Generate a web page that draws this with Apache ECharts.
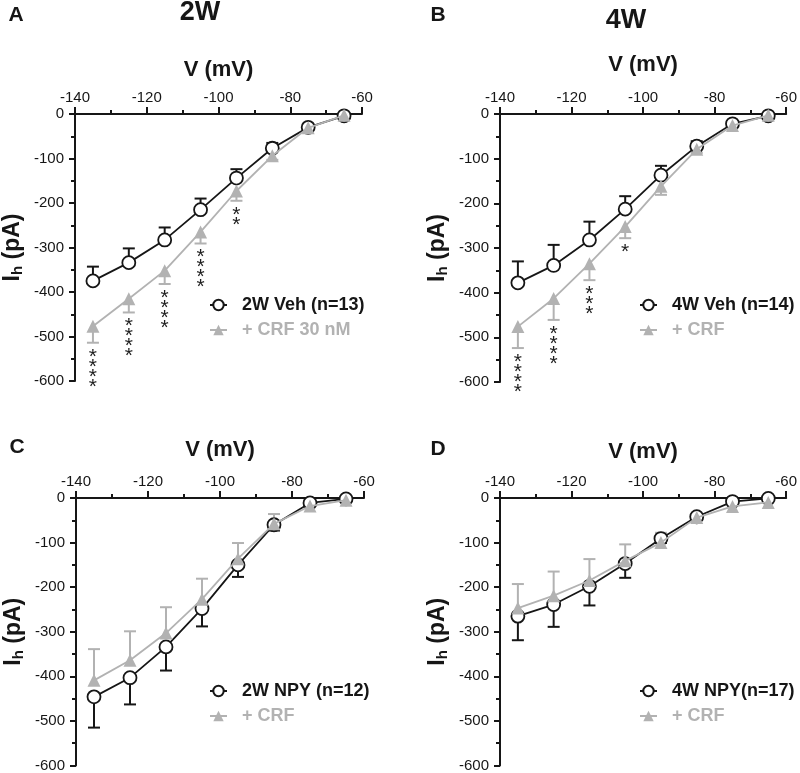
<!DOCTYPE html>
<html><head><meta charset="utf-8">
<script src="https://cdn.jsdelivr.net/npm/echarts@6/dist/echarts.min.js"></script>
<style>html,body{margin:0;padding:0;background:#fff}#c{width:800px;height:773px}</style>
</head><body><div id="c"></div>
<script>
// ---- data ----
const voltages = [-135, -125, -115, -105, -95, -85, -75, -65];
const xTickLabels = [-140, -120, -100, -80, -60];
const yTickLabels = [0, -100, -200, -300, -400, -500, -600];

// Panel A: 2W
const A_veh     = [-375, -334, -283, -215, -144, -77, -30, -4];
const A_vehSem  = [32, 32, 28, 25, 20, 12, 5, 3];
const A_crf     = [-477, -415, -352, -265, -173, -94, -31, -3];
const A_crfSem  = [37, 31, 30, 26, 22, 9, 5, 3];
const A_sig     = ['****', '****', '****', '****', '**', '', '', ''];
// Panel B: 4W
const B_veh     = [-378, -339, -282, -213, -137, -72, -22, -4];
const B_vehSem  = [48, 46, 41, 29, 21, 11, 5, 3];
const B_crf     = [-476, -413, -335, -252, -162, -79, -26, -3];
const B_crfSem  = [48, 48, 37, 26, 19, 8, 4, 2];
const B_sig     = ['****', '****', '***', '*', '', '', '', ''];
// Panel C: 2W NPY
const C_veh     = [-446, -403, -334, -248, -150, -60, -11, -2];
const C_vehSem  = [69, 60, 53, 40, 27, 13, 4, 2];
const C_crf     = [-409, -364, -303, -227, -136, -58, -18, -5];
const C_crfSem  = [70, 65, 58, 46, 35, 22, 5, 2];
const C_sig     = ['', '', '', '', '', '', '', ''];
// Panel D: 4W NPY
const D_veh     = [-265, -239, -198, -147, -91, -42, -8, -1];
const D_vehSem  = [54, 50, 43, 32, 10, 6, 3, 2];
const D_crf     = [-247, -219, -185, -141, -100, -44, -19, -10];
const D_crfSem  = [54, 54, 48, 37, 22, 6, 4, 2];
const D_sig     = ['', '', '', '', '', '', '', ''];

const vehLabels = ['2W Veh (n=13)', '4W Veh (n=14)', '2W NPY (n=12)', '4W NPY(n=17)'];
const crfLabels = ['+ CRF 30 nM', '+ CRF', '+ CRF', '+ CRF'];

// ---- styles / layout ----
const FF = 'Liberation Sans, Arial, Helvetica, sans-serif';
const BLACK = '#161616';
const GRAY = '#b2b2b2';
const panels = [
  {key:'A', veh:A_veh, vehSem:A_vehSem, crf:A_crf, crfSem:A_crfSem, sig:A_sig, vehDir:1,
   grid:{left:75, top:114, width:287, height:267}, xGap:33, legend:{left:204, top:291}},
  {key:'B', veh:B_veh, vehSem:B_vehSem, crf:B_crf, crfSem:B_crfSem, sig:B_sig, vehDir:1,
   grid:{left:500, top:114, width:289, height:268}, xGap:38, legend:{left:634, top:291}},
  {key:'C', veh:C_veh, vehSem:C_vehSem, crf:C_crf, crfSem:C_crfSem, sig:C_sig, vehDir:-1,
   grid:{left:76, top:498, width:288, height:270}, xGap:37, legend:{left:204, top:677}},
  {key:'D', veh:D_veh, vehSem:D_vehSem, crf:D_crf, crfSem:D_crfSem, sig:D_sig, vehDir:-1,
   grid:{left:500, top:498, width:289, height:270}, xGap:35, legend:{left:634, top:677}}
];

function errSeries(i, color, means, sems, dir) {
  return {
    type:'custom', xAxisIndex:i, yAxisIndex:i, z:1, silent:true,
    data: voltages.map((v,k) => [v, means[k], means[k] + dir*sems[k]]),
    renderItem: function(params, api) {
      const p0 = api.coord([api.value(0), api.value(1)]);
      const p1 = api.coord([api.value(0), api.value(2)]);
      const st = {stroke:color, lineWidth:2};
      return {type:'group', children:[
        {type:'line', shape:{x1:p0[0], y1:p0[1], x2:p1[0], y2:p1[1]}, style:st},
        {type:'line', shape:{x1:p1[0]-6, y1:p1[1], x2:p1[0]+6, y2:p1[1]}, style:st}
      ]};
    }
  };
}

function starSeries(i, p) {
  const data = [], texts = [];
  voltages.forEach((v,k) => { if (p.sig[k]) { data.push([v, p.crf[k] - p.crfSem[k]]); texts.push(p.sig[k]); } });
  return {
    type:'custom', xAxisIndex:i, yAxisIndex:i, z:5, silent:true, clip:false,
    data: data,
    renderItem: function(params, api) {
      const pt = api.coord([api.value(0), api.value(1)]);
      return {type:'text', x:pt[0], y:pt[1] + 9, style:{
        text: texts[params.dataIndex].split('').join('\n'),
        fontSize:21, fontFamily:FF, fill:'#1e1e1e', align:'center', verticalAlign:'top', lineHeight:10
      }};
    }
  };
}

const option = {
  animation:false,
  backgroundColor:'#fff',
  graphic:[
    {type:'text', x:16, y:15, style:{text:'A', font:'bold 21px '+FF, fill:BLACK, align:'center', verticalAlign:'middle'}},
    {type:'text', x:200, y:13, style:{text:'2W', font:'bold 27px '+FF, fill:BLACK, align:'center', verticalAlign:'middle'}},
    {type:'text', x:438, y:15, style:{text:'B', font:'bold 21px '+FF, fill:BLACK, align:'center', verticalAlign:'middle'}},
    {type:'text', x:626, y:21, style:{text:'4W', font:'bold 27px '+FF, fill:BLACK, align:'center', verticalAlign:'middle'}},
    {type:'text', x:17, y:447, style:{text:'C', font:'bold 21px '+FF, fill:BLACK, align:'center', verticalAlign:'middle'}},
    {type:'text', x:438, y:449, style:{text:'D', font:'bold 21px '+FF, fill:BLACK, align:'center', verticalAlign:'middle'}}
  ],
  grid: panels.map(p => Object.assign({}, p.grid)),
  xAxis: panels.map((p,i) => ({
    gridIndex:i, type:'value', position:'top',
    min:xTickLabels[0], max:xTickLabels[xTickLabels.length-1], interval:20,
    name:'V (mV)', nameLocation:'middle', nameGap:p.xGap,
    nameTextStyle:{fontSize:22, fontWeight:'bold', color:BLACK, fontFamily:FF},
    axisLine:{onZero:false, lineStyle:{color:BLACK, width:2}},
    axisTick:{show:true, length:7, lineStyle:{color:BLACK, width:2}},
    minorTick:{show:true, splitNumber:2, length:4, lineStyle:{color:BLACK, width:2}},
    splitLine:{show:false}, minorSplitLine:{show:false},
    axisLabel:{fontSize:15, color:BLACK, fontFamily:FF, margin:9}
  })),
  yAxis: panels.map((p,i) => ({
    gridIndex:i, type:'value',
    min:yTickLabels[yTickLabels.length-1], max:yTickLabels[0], interval:100,
    name:'{a|I}{s|h}{a| (pA)}', nameLocation:'middle', nameGap:50,
    nameTextStyle:{fontFamily:FF, color:BLACK, rich:{
      a:{fontSize:23, fontWeight:'bold', fontFamily:FF, color:BLACK},
      s:{fontSize:15, fontWeight:'bold', fontFamily:FF, color:BLACK, padding:[9,0,0,0]}
    }},
    axisLine:{show:true, onZero:false, lineStyle:{color:BLACK, width:2}},
    axisTick:{show:true, length:6, lineStyle:{color:BLACK, width:2}},
    minorTick:{show:true, splitNumber:2, length:4, lineStyle:{color:BLACK, width:2}},
    splitLine:{show:false}, minorSplitLine:{show:false},
    axisLabel:{fontSize:15, color:BLACK, fontFamily:FF, margin:11}
  })),
  legend: panels.map((p,i) => ({
    orient:'vertical', left:p.legend.left, top:p.legend.top,
    itemWidth:17, itemHeight:13, itemGap:7, selectedMode:false,
    data:[
      {name:p.key+'|'+vehLabels[i], textStyle:{color:BLACK}},
      {name:p.key+'|'+crfLabels[i], textStyle:{color:GRAY}}
    ],
    formatter: n => '  ' + n.split('|')[1],
    textStyle:{fontSize:18, fontWeight:'bold', fontFamily:FF}
  })),
  series: []
};

panels.forEach((p,i) => {
  option.series.push(errSeries(i, BLACK, p.veh, p.vehSem, p.vehDir));
  option.series.push(errSeries(i, GRAY, p.crf, p.crfSem, -p.vehDir));
  option.series.push({
    type:'line', name:p.key+'|'+vehLabels[i], xAxisIndex:i, yAxisIndex:i, z:3,
    data: voltages.map((v,k) => [v, p.veh[k]]),
    symbol:'circle', symbolSize:13,
    itemStyle:{color:'#fff', borderColor:BLACK, borderWidth:1.8},
    lineStyle:{color:BLACK, width:1.8}
  });
  option.series.push({
    type:'line', name:p.key+'|'+crfLabels[i], xAxisIndex:i, yAxisIndex:i, z:4,
    data: voltages.map((v,k) => [v, p.crf[k]]),
    symbol:'triangle', symbolSize:13,
    itemStyle:{color:GRAY, borderWidth:0},
    lineStyle:{color:GRAY, width:1.8}
  });
  option.series.push(starSeries(i, p));
});

const chart = echarts.init(document.getElementById('c'), null, {renderer:'canvas'});
chart.setOption(option);
</script>
</body></html>
